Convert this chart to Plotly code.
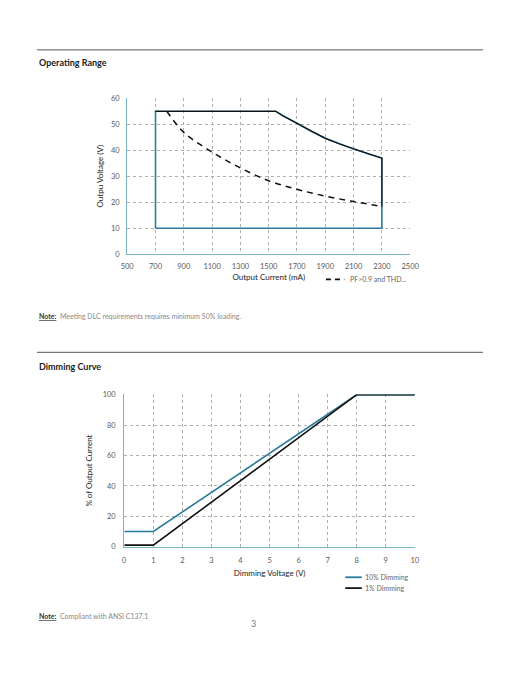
import plotly.graph_objects as go

# Operating range data
range_current = [700, 700, 1550, 1600, 1700, 1800, 1900, 2000, 2100, 2200, 2300, 2300, 700]
range_voltage = [10, 55, 55, 53.3, 50.4, 47.3, 44.6, 42.4, 40.5, 38.7, 37, 10, 10]

limit_current = [700, 1550, 1600, 1700, 1800, 1900, 2000, 2100, 2200, 2300, 2300]
limit_voltage = [55, 55, 53.3, 50.4, 47.3, 44.6, 42.4, 40.5, 38.7, 37, 18.4]

pf_current = [780, 900, 1100, 1300, 1500, 1700, 1900, 2100, 2300]
pf_voltage = [55, 46.9, 39.3, 33.2, 28.3, 25.0, 22.4, 20.3, 18.4]

# Dimming curve data
dim_voltage = [0, 1, 8, 10]
dim_10pct = [10, 10, 100, 100]
dim_1pct = [1, 1, 100, 100]

W, H = 522, 676
BLUE = '#2a7a99'
AXIS = '#7db3c6'
GRID = '#b0b0b0'
FONT = 'Lato'

def px(x):
    return x / W

def py(y):
    return 1 - y / H

fig = go.Figure()

fig.add_trace(go.Scatter(x=range_current, y=range_voltage, mode='lines',
                         line=dict(color=BLUE, width=1.6), showlegend=False,
                         xaxis='x', yaxis='y'))
fig.add_trace(go.Scatter(x=limit_current, y=limit_voltage, mode='lines',
                         line=dict(color='#111111', width=1.2), showlegend=False,
                         xaxis='x', yaxis='y'))
fig.add_trace(go.Scatter(x=pf_current, y=pf_voltage, mode='lines', line_shape='spline',
                         line=dict(color='#111111', width=1.5, dash='6px,5px'),
                         name='PF>0.9 and THD...', showlegend=False,
                         xaxis='x', yaxis='y'))

fig.add_trace(go.Scatter(x=dim_voltage, y=dim_10pct, mode='lines',
                         line=dict(color=BLUE, width=1.6), name='10% Dimming',
                         showlegend=False, xaxis='x2', yaxis='y2'))
fig.add_trace(go.Scatter(x=dim_voltage, y=dim_1pct, mode='lines',
                         line=dict(color='#111111', width=1.6), name='1% Dimming',
                         showlegend=False, xaxis='x2', yaxis='y2'))

tickfont = dict(family=FONT, size=7.5, color='#5a5a5a')
titlefont = dict(family=FONT, size=8, color='#222222')
common = dict(showgrid=True, gridcolor=GRID, griddash='dot', gridwidth=0.8,
              showline=True, linecolor=AXIS, linewidth=1.2, zeroline=False,
              ticks='', tickfont=tickfont, mirror=False)

fig.update_layout(
    width=W, height=H,
    margin=dict(l=0, r=0, t=0, b=0),
    paper_bgcolor='white', plot_bgcolor='white',
    font=dict(family=FONT),
    showlegend=False,
    xaxis=dict(domain=[px(124), px(416)], range=[500, 2500.5], tick0=500, dtick=200, anchor='y',
               ticklabelstandoff=5,
               title=dict(text='Output Current (mA)', font=titlefont, standoff=3), **common),
    yaxis=dict(domain=[py(253.7), py(95.3)], range=[0, 60.1], dtick=10, anchor='x',
               ticklabelstandoff=5,
               title=dict(text='Outpu Voltage (V)', font=titlefont, standoff=6), **common),
    xaxis2=dict(domain=[px(121), px(421)], range=[0, 10.01], dtick=1, anchor='y2',
                ticklabelstandoff=6,
                title=dict(text='Dimming Voltage (V)', font=titlefont, standoff=6), **common),
    yaxis2=dict(domain=[py(550), py(395.7)], range=[0, 100.2], dtick=20, anchor='x2',
                ticklabelstandoff=6,
                title=dict(text='% of Output Current', font=titlefont, standoff=8), **common),
)

# page dividers
for yline in [46.5, 353]:
    fig.add_shape(type='line', xref='paper', yref='paper',
                  x0=px(31), x1=px(491), y0=py(yline), y1=py(yline),
                  line=dict(color='#555555', width=1))

# legends drawn by hand so the key lines stay short
legend_items = [
    (329, 348, 279, '#111111', 'dash', 'PF>0.9 and THD...', 352),
    (349, 366, 581, BLUE, 'solid', '10% Dimming', 367),
    (349, 366, 592, '#111111', 'solid', '1% Dimming', 367),
]
for x0, x1, y, c, d, label, tx in legend_items:
    fig.add_shape(type='line', xref='paper', yref='paper',
                  x0=px(x0), x1=px(x1), y0=py(y), y1=py(y),
                  line=dict(color=c, width=1.8, dash='5px,4px' if d == 'dash' else 'solid'))
    fig.add_annotation(x=px(tx), y=py(y), xref='paper', yref='paper', text=label,
                       showarrow=False, xanchor='left', yanchor='middle',
                       font=dict(family=FONT, size=7, color='#666666'))

texts = [
    (31, 59.3, '<b>Operating Range</b>', 9, '#222222', 'left'),
    (31, 367, '<b>Dimming Curve</b>', 9, '#222222', 'left'),
    (31, 316, '<b><u>Note:</u></b>  <span style="color:#888888">Meeting DLC requirements requires minimum 50% loading.</span>', 7, '#333333', 'left'),
    (31, 620, '<b><u>Note:</u></b>  <span style="color:#888888">Compliant with ANSI C137.1</span>', 7, '#333333', 'left'),
    (254, 628, '3', 9, '#777777', 'center'),
]
for x, y, t, s, c, a in texts:
    fig.add_annotation(x=px(x), y=py(y), xref='paper', yref='paper', text=t,
                       showarrow=False, xanchor=a, yanchor='middle',
                       font=dict(family=FONT, size=s, color=c))

fig.write_html("out.html", config={'displayModeBar': False},
               post_script="document.body.style.margin='0';")
